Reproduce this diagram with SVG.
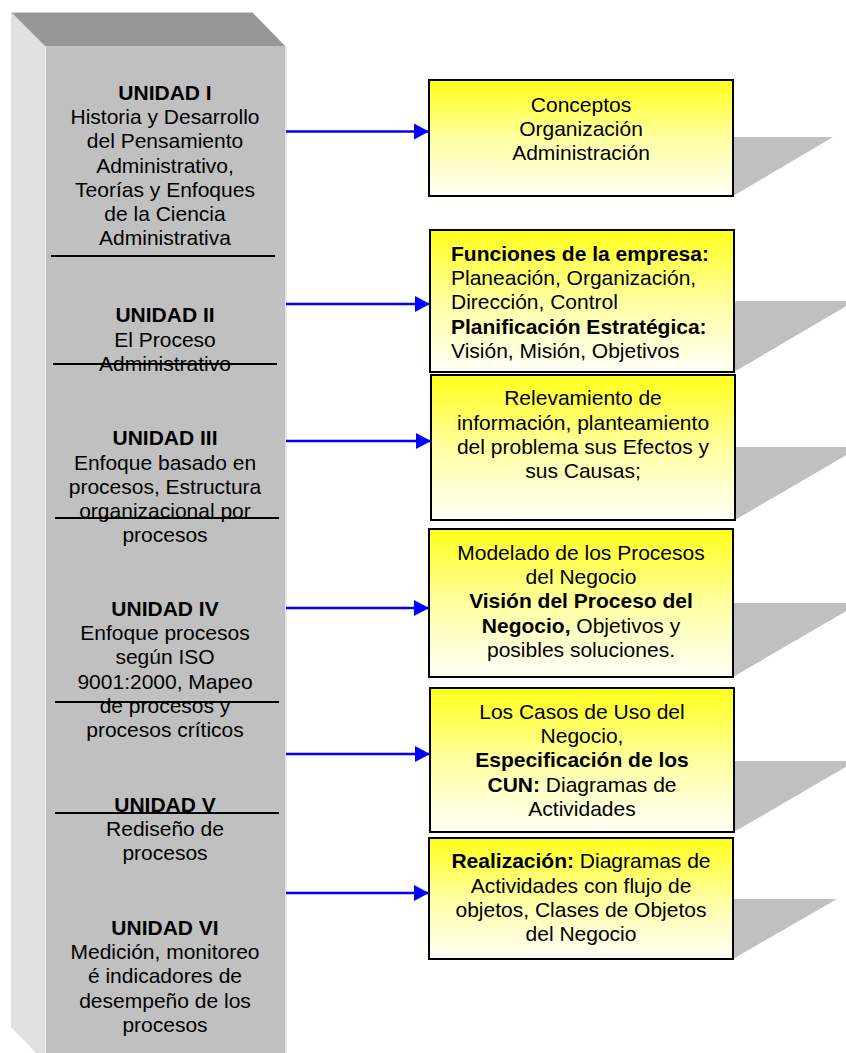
<svg xmlns="http://www.w3.org/2000/svg" width="846" height="1053" viewBox="0 0 846 1053">
<defs>
<linearGradient id="yg" x1="0" y1="0" x2="0" y2="1">
<stop offset="0" stop-color="#ffff1a"/>
<stop offset="0.5" stop-color="#ffffa0"/>
<stop offset="1" stop-color="#fffff8"/>
</linearGradient>
<marker id="ah" viewBox="0 0 15 16" refX="15" refY="8" markerWidth="15" markerHeight="16" markerUnits="userSpaceOnUse" orient="auto">
<path d="M0,0 L15,8 L0,16 Z" fill="#0000ff"/>
</marker>
<style>
text{font-family:"Liberation Sans",Arial,sans-serif;font-size:21px;fill:#000}
.c{text-anchor:middle}
.b{font-weight:bold}
.box{fill:url(#yg);stroke:#000;stroke-width:2}
.sh{fill:#c0c0c0}
.rule{stroke:#000;stroke-width:2}
.arr{stroke:#0000ff;stroke-width:2.5;fill:none;marker-end:url(#ah)}
</style>
</defs>
<rect width="846" height="1053" fill="#fff"/>

<g id="column">
<polygon points="11,12 45,46 45,1053 36,1053 11,1027" fill="#e0e0e0"/>
<polygon points="11,12 252,12 285,46 45,46" fill="#969696"/>
<rect x="45" y="46" width="240" height="1007" fill="#c0c0c0"/>
<line x1="11" y1="12.5" x2="252" y2="12.5" stroke="#d0d0d0" stroke-width="1"/>
<line x1="45.5" y1="46" x2="45.5" y2="1053" stroke="#ececec" stroke-width="1"/>
<line x1="286" y1="46" x2="286" y2="1053" stroke="#dedede" stroke-width="1.5"/>
<line class="rule" x1="51" y1="256" x2="275" y2="256"/>
<line class="rule" x1="53" y1="364" x2="277" y2="364"/>
<line class="rule" x1="55" y1="518" x2="279" y2="518"/>
<line class="rule" x1="55" y1="702" x2="279" y2="702"/>
<line class="rule" x1="55" y1="813" x2="279" y2="813"/>
</g>

<g id="unidad1">
<text class="c" x="165"><tspan class="b" x="165" y="100">UNIDAD I</tspan><tspan x="165" y="124.2">Historia y Desarrollo</tspan><tspan x="165" y="148.4">del Pensamiento</tspan><tspan x="165" y="172.6">Administrativo,</tspan><tspan x="165" y="196.8">Teorías y Enfoques</tspan><tspan x="165" y="221">de la Ciencia</tspan><tspan x="165" y="245.2">Administrativa</tspan></text>
</g>
<g id="unidad2">
<text class="c" x="165"><tspan class="b" x="165" y="322">UNIDAD II</tspan><tspan x="165" y="346.5">El Proceso</tspan><tspan x="165" y="370.7">Administrativo</tspan></text>
</g>
<g id="unidad3">
<text class="c" x="165"><tspan class="b" x="165" y="445">UNIDAD III</tspan><tspan x="165" y="469.5">Enfoque basado en</tspan><tspan x="165" y="493.7">procesos, Estructura</tspan><tspan x="165" y="517.9">organizacional por</tspan><tspan x="165" y="542.1">procesos</tspan></text>
</g>
<g id="unidad4">
<text class="c" x="165"><tspan class="b" x="165" y="616">UNIDAD IV</tspan><tspan x="165" y="640.2">Enfoque procesos</tspan><tspan x="165" y="664.4">según ISO</tspan><tspan x="165" y="688.6">9001:2000, Mapeo</tspan><tspan x="165" y="712.8">de procesos y</tspan><tspan x="165" y="737">procesos críticos</tspan></text>
</g>
<g id="unidad5">
<text class="c" x="165"><tspan class="b" x="165" y="812">UNIDAD V</tspan><tspan x="165" y="836.2">Rediseño de</tspan><tspan x="165" y="860.4">procesos</tspan></text>
</g>
<g id="unidad6">
<text class="c" x="165"><tspan class="b" x="165" y="935">UNIDAD VI</tspan><tspan x="165" y="959.2">Medición, monitoreo</tspan><tspan x="165" y="983.4">é indicadores de</tspan><tspan x="165" y="1007.6">desempeño de los</tspan><tspan x="165" y="1031.8">procesos</tspan></text>
</g>

<g id="box1">
<polygon class="sh" points="733,137 833,137 733,196"/>
<rect class="box" x="429" y="80" width="304" height="116"/>
<text class="c"><tspan x="581" y="112">Conceptos</tspan><tspan x="581" y="136.2">Organización</tspan><tspan x="581" y="160.4">Administración</tspan></text>
</g>
<g id="box2">
<polygon class="sh" points="734,301 855,301 734,372"/>
<rect class="box" x="430" y="230" width="304" height="142"/>
<text><tspan class="b" x="451" y="261">Funciones de la empresa:</tspan><tspan x="451" y="285.2">Planeación, Organización,</tspan><tspan x="451" y="309.4">Dirección, Control</tspan><tspan class="b" x="451" y="333.6">Planificación Estratégica:</tspan><tspan x="451" y="357.8">Visión, Misión, Objetivos</tspan></text>
</g>
<g id="box3">
<polygon class="sh" points="735,447 860,447 735,520"/>
<rect class="box" x="431" y="375" width="304" height="145"/>
<text class="c"><tspan x="583" y="405">Relevamiento de</tspan><tspan x="583" y="429.5">información, planteamiento</tspan><tspan x="583" y="453.7">del problema sus Efectos y</tspan><tspan x="583" y="477.9">sus Causas;</tspan></text>
</g>
<g id="box4">
<polygon class="sh" points="733,603 860,603 733,677"/>
<rect class="box" x="429" y="529" width="304" height="148"/>
<text class="c"><tspan x="581" y="560">Modelado de los Procesos</tspan><tspan x="581" y="584.2">del Negocio</tspan><tspan class="b" x="581" y="608.4">Visión del Proceso del</tspan><tspan x="581" y="632.6"><tspan class="b">Negocio,</tspan> Objetivos y</tspan><tspan x="581" y="656.8">posibles soluciones.</tspan></text>
</g>
<g id="box5">
<polygon class="sh" points="734,761 856,761 734,832"/>
<rect class="box" x="430" y="688" width="304" height="144"/>
<text class="c"><tspan x="582" y="719">Los Casos de Uso del</tspan><tspan x="582" y="743.2">Negocio,</tspan><tspan class="b" x="582" y="767.4">Especificación de los</tspan><tspan x="582" y="791.6"><tspan class="b">CUN:</tspan> Diagramas de</tspan><tspan x="582" y="815.8">Actividades</tspan></text>
</g>
<g id="box6">
<polygon class="sh" points="733,899 837,899 733,959"/>
<rect class="box" x="429" y="838" width="304" height="121"/>
<text class="c"><tspan x="581" y="868"><tspan class="b">Realización:</tspan> Diagramas de</tspan><tspan x="581" y="892.5">Actividades con flujo de</tspan><tspan x="581" y="916.7">objetos, Clases de Objetos</tspan><tspan x="581" y="940.9">del Negocio</tspan></text>
</g>

<g id="connectors">
<line class="arr" x1="286" y1="131.5" x2="429" y2="131.5"/>
<line class="arr" x1="286" y1="304" x2="430" y2="304"/>
<line class="arr" x1="286" y1="441" x2="431" y2="441"/>
<line class="arr" x1="286" y1="608" x2="429" y2="608"/>
<line class="arr" x1="286" y1="754" x2="430" y2="754"/>
<line class="arr" x1="286" y1="893" x2="429" y2="893"/>
</g>
</svg>
